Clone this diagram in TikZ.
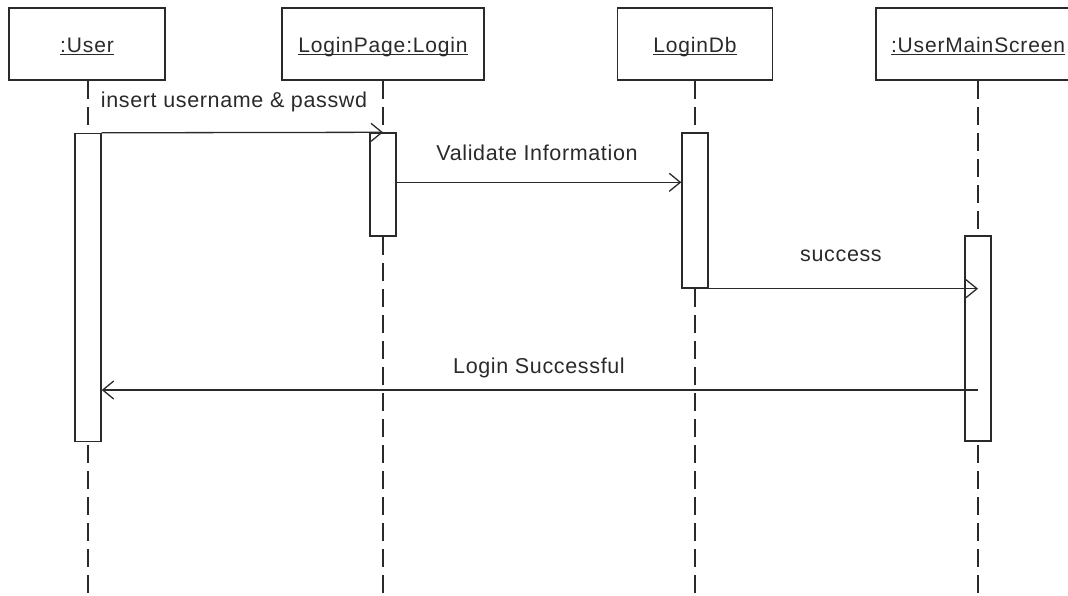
\documentclass[tikz,border=0pt]{standalone}
\usepackage{fontspec}
\setmainfont{Liberation Sans}
\usetikzlibrary{arrows.meta}
\definecolor{ink}{HTML}{2A2A2A}
\tikzset{
  head/.style={draw=ink, line width=1.6pt, fill=white, minimum height=72pt, inner sep=0pt, text height=18pt, text depth=0pt,
    font=\fontsize{21}{24}\selectfont\addfontfeature{LetterSpace=4}, text=ink},
  act/.style={draw=ink, line width=1.4pt, fill=white, minimum width=26pt, inner sep=0pt},
  life/.style={draw=ink, line width=1.4pt, dash pattern=on 18pt off 8pt},
  msg/.style={draw=ink, line width=1.3pt, -{Straight Barb[length=11pt,width=18pt,line width=1.3pt]}},
  lbl/.style={font=\fontsize{21.5}{24}\selectfont\addfontfeature{LetterSpace=3}, text=ink, inner sep=0pt}
}
\newcommand{\ul}[1]{\underline{\smash{#1}}}
\begin{document}
\begin{tikzpicture}[x=1pt,y=-1pt]
\useasboundingbox (0,0) rectangle (1068,596);
% heads
\node[head, minimum width=156pt] (u)  at (87,44)  {\ul{:User}};
\node[head, minimum width=202pt] (lp) at (383,44) {\ul{LoginPage:Login}};
\node[head, minimum width=155pt] (ld) at (695,44) {\ul{LoginDb}};
\node[head, minimum width=204pt] (um) at (978,44) {\ul{:UserMainScreen}};
% lifeline ends
\coordinate (ue)  at (88,596);
\coordinate (lpe) at (383,596);
\coordinate (lde) at (695,596);
\coordinate (ume) at (978,596);
\draw[life] (u.south -| ue) -- (ue);
\draw[life] (lp.south) -- (lpe);
\draw[life] (ld.south) -- (lde);
\draw[life] (um.south) -- (ume);
% activations
\node[act, minimum height=308pt] (ua)  at (88,287.5)  {};
\node[act, minimum height=103pt] (lpa) at (383,184.5) {};
\node[act, minimum height=155pt] (lda) at (695,210.5) {};
\node[act, minimum height=205pt] (uma) at (978,338.5) {};
% messages
\draw[msg] (ua.north east) -- (lpa.north);
\path (lpa.north east) ++(0,50) coordinate (m2);
\draw[msg] (m2) -- (m2 -| lda.west);
\draw[msg] (lda.south east) -- (lda.south east -| uma.center);
\coordinate (m4) at (0,390);
\draw[msg] (uma.center |- m4) -- (ua.east |- m4);
% labels
\node[lbl] (l1) at (234,102) {insert username \& passwd};
\node[lbl] (l2) at (537,153) {Validate Information};
\node[lbl] (l3) at (841,256) {success};
\node[lbl] (l4) at (539,368) {Login Successful};
\end{tikzpicture}
\end{document}
